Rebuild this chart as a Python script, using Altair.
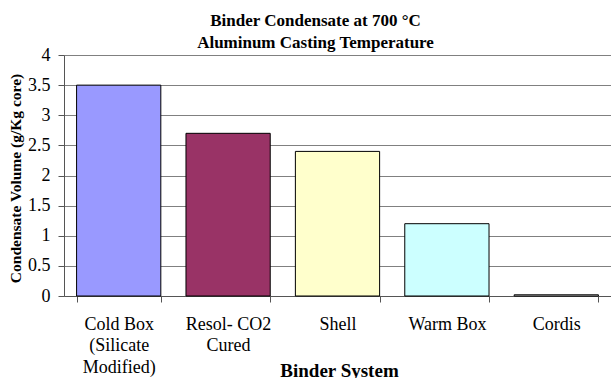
import altair as alt
import pandas as pd

# Binder systems (multi-line axis labels split on "\n")
binders = [
    "Cold Box\n(Silicate\nModified)",
    "Resol- CO2\nCured",
    "Shell",
    "Warm Box",
    "Cordis",
]
condensate = [3.5, 2.7, 2.4, 1.2, 0.02]
bar_colors = ["#9999FF", "#993366", "#FFFFCC", "#CCFFFF", "#FFFFFF"]
y_ticks = [0, 0.5, 1, 1.5, 2, 2.5, 3, 3.5, 4]

df = pd.DataFrame({"binder": binders, "volume": condensate})

FONT = "Liberation Serif"

bars = alt.Chart(df).mark_bar(stroke="black", strokeWidth=1).encode(
    x=alt.X(
        "binder:N",
        sort=binders,
        scale=alt.Scale(paddingInner=0.23, paddingOuter=0.115),
        axis=alt.Axis(
            title="Binder System",
            labelAngle=0,
            labelExpr="split(datum.label, '\\n')",
            labelFont=FONT,
            labelFontSize=18,
            labelLineHeight=21.5,
            labelColor="black",
            labelPadding=13,
            labelBaseline="top",
            tickBand="extent",
            tickSize=6,
            tickColor="#555",
            domainColor="#555",
            grid=False,
            titleFont=FONT,
            titleFontSize=19,
            titleFontWeight="bold",
            titleColor="black",
            titleBaseline="alphabetic",
            titleY=80,
            titleX=275,
        ),
    ),
    y=alt.Y(
        "volume:Q",
        scale=alt.Scale(domain=[0, 4], nice=False),
        axis=alt.Axis(
            title="Condensate Volume (g/Kg core)",
            values=y_ticks,
            format="~g",
            labelFont=FONT,
            labelFontSize=18,
            labelColor="black",
            labelPadding=8,
            tickSize=6,
            tickColor="#555",
            domainColor="#555",
            gridColor="#808080",
            gridWidth=1.2,
            titleFont=FONT,
            titleFontSize=15.5,
            titleFontWeight="bold",
            titleColor="black",
            titleAngle=-90,
            titleBaseline="middle",
            titleX=-49,
            titleY=123,
        ),
    ),
    color=alt.Color(
        "binder:N",
        scale=alt.Scale(domain=binders, range=bar_colors),
        legend=None,
    ),
)

chart = bars.properties(
    width=547,
    height=241,
    title=alt.TitleParams(
        text=["Binder Condensate at 700 °C", "Aluminum Casting Temperature"],
        font=FONT,
        fontSize=17,
        fontWeight="bold",
        color="black",
        lineHeight=22,
        anchor="middle",
        dx=-22,
        dy=12,
        offset=6,
    ),
    autosize=alt.AutoSizeParams(type="none"),
    padding={"left": 64, "top": 55, "right": 0, "bottom": 82},
).configure_view(stroke=None).configure(background="white")

chart.save("out.html", embed_options={"renderer": "svg", "actions": False})
